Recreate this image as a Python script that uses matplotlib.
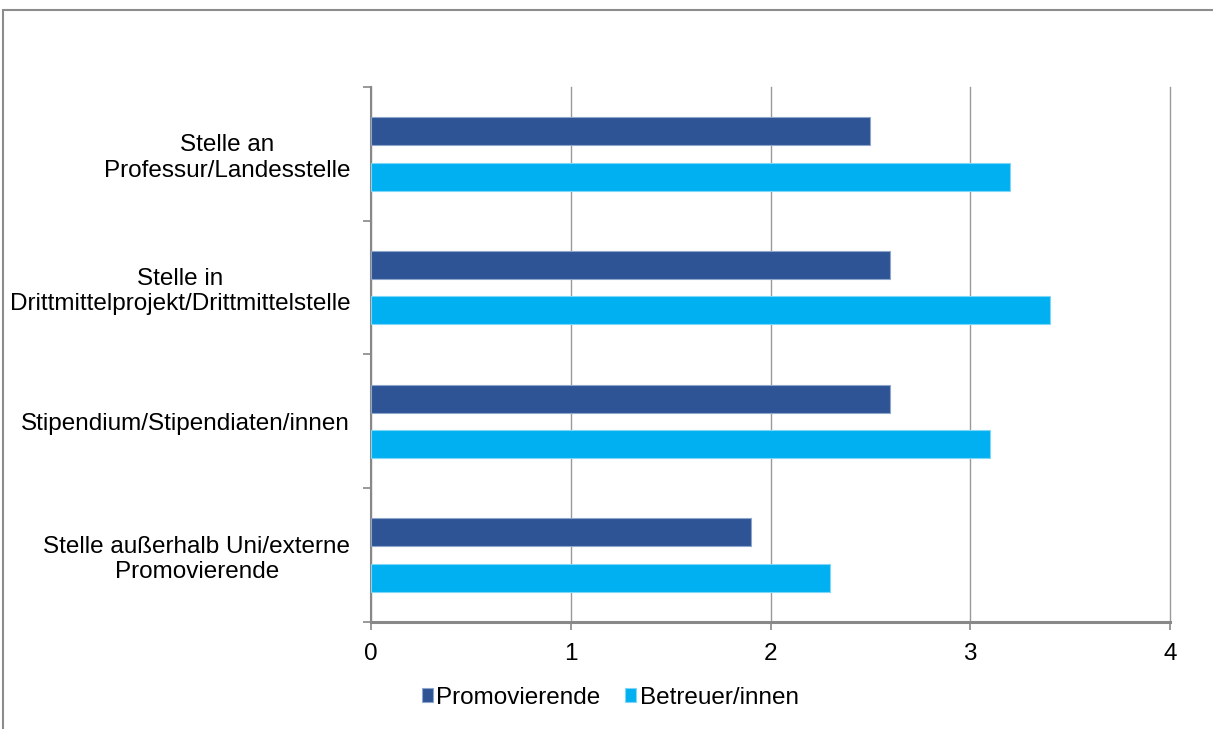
import numpy as np
import matplotlib.pyplot as plt
from matplotlib.patches import Rectangle
from matplotlib.ticker import FixedLocator

plt.rcParams["font.family"] = ["Liberation Sans", "DejaVu Sans"]

# categories from top to bottom
categories = [
    "Stelle an\nProfessur/Landesstelle",
    "Stelle in\nDrittmittelprojekt/Drittmittelstelle",
    "Stipendium/Stipendiaten/innen",
    "Stelle außerhalb Uni/externe\nPromovierende",
]
promovierende = [2.5, 2.6, 2.6, 1.9]
betreuer = [3.2, 3.4, 3.1, 2.3]
x_ticks = [0, 1, 2, 3, 4]

dark_blue = "#2E5495"
light_blue = "#00B0F0"

fig = plt.figure(figsize=(12.13, 7.29), dpi=100)
ax = fig.add_axes([0.3059, 0.1468, 0.6587, 0.7339])

y = np.arange(len(categories))
h = 0.21
off = 0.17
ax.barh(y - off, promovierende, height=h, color=dark_blue,
        edgecolor="#8FA6CC", linewidth=0.8, label="Promovierende", zorder=3)
ax.barh(y + off, betreuer, height=h, color=light_blue,
        edgecolor="#7FD6F6", linewidth=0.8, label="Betreuer/innen", zorder=3)

ax.set_xlim(0, 4)
ax.set_ylim(len(categories) - 0.5, -0.5)
ax.set_xticks(x_ticks)
ax.set_xticklabels([str(t) for t in x_ticks], fontsize=17.5)
ax.set_yticks(y)
ax.set_yticklabels(categories, fontsize=17.5)
for lab in ax.get_yticklabels():
    lab.set_multialignment("center")
ax.yaxis.set_minor_locator(FixedLocator(np.arange(-0.5, len(categories), 1.0)))

ax.tick_params(axis="y", which="major", length=0, pad=15)
ax.tick_params(axis="y", which="minor", length=6, width=1.2, color="#888888")
ax.tick_params(axis="x", length=6, width=1.2, color="#888888", pad=9)

ax.grid(axis="x", color="#999999", linewidth=1, zorder=0)
for gl in ax.get_xgridlines():
    gl.set_clip_on(False)
ax.set_axisbelow(True)
for side in ["top", "right"]:
    ax.spines[side].set_visible(False)
ax.spines["left"].set_color("#888888")
ax.spines["left"].set_linewidth(1.5)
ax.spines["bottom"].set_color("#888888")
ax.spines["bottom"].set_linewidth(2.2)

fig.legend(loc="center", bbox_to_anchor=(0.503, 0.043), ncol=2, frameon=False,
           fontsize=17.5, handlelength=0.45, handleheight=0.45,
           handletextpad=0.15, columnspacing=1.0, borderaxespad=0)

# outer chart frame
fig.patches.append(Rectangle((3 / 1213, -0.1), 1.2, 1 - 10 / 729 + 0.1,
                             transform=fig.transFigure, fill=False,
                             edgecolor="#8C8C8C", linewidth=1.5))

fig.savefig("out.png", dpi=100)
